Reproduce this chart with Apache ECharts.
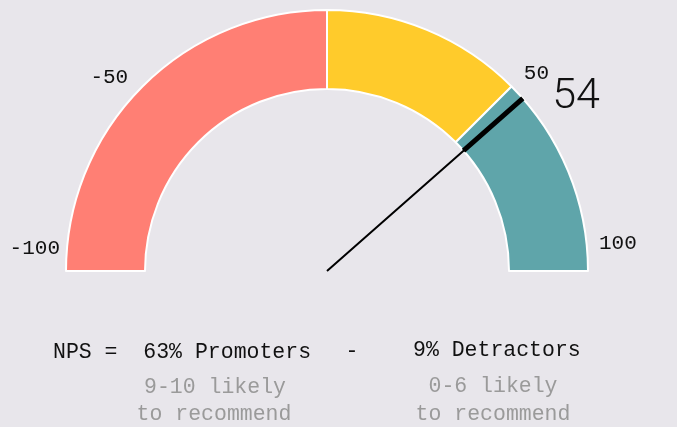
<!DOCTYPE html>
<html>
<head>
<meta charset="utf-8">
<script src="https://cdn.jsdelivr.net/npm/echarts@6/dist/echarts.min.js"></script>
<style>
html,body{margin:0;padding:0;background:#e8e6eb;}
#chart{width:677px;height:427px;}
</style>
</head>
<body>
<div id="chart"></div>
<script>
// ---- data ----
var segmentBounds = [-100, 0, 50, 100];          // red, yellow, teal ranges
var segmentColors = ['#ff7f74', '#ffcb2b', '#5fa5aa'];
var tickValues = [-100, -50, 50, 100];
var npsValue = 54;
var promoterPct = 63;
var detractorPct = 9;
var promoterNote = ['9-10 likely', 'to recommend'];
var detractorNote = ['0-6 likely', 'to recommend'];

var gMin = segmentBounds[0], gMax = segmentBounds[segmentBounds.length - 1];
var span = gMax - gMin;

var pieData = [];
for (var i = 0; i < segmentBounds.length - 1; i++) {
  pieData.push({ value: segmentBounds[i + 1] - segmentBounds[i], itemStyle: { color: segmentColors[i] } });
}
pieData.push({ value: span, itemStyle: { color: 'transparent', borderWidth: 0 } });

var CX = 327, CY = 271, R_OUT = 261, R_IN = 182;
var FONT = 'Liberation Mono';

var labelRich = {
  l1: { fontSize: 21, fontFamily: FONT, color: '#111', padding: [0, 0, 46, 0] },
  l2: { fontSize: 21, fontFamily: FONT, color: '#111', lineHeight: 10, padding: [0, 10, 0, 0] },
  r1: { fontSize: 21, fontFamily: FONT, color: '#111', lineHeight: 18, padding: [0, 0, 0, 8] },
  r2: { fontSize: 21, fontFamily: FONT, color: '#111', padding: [0, 0, 56, 5] }
};
var labelStyleName = { '-100': 'l1', '-50': 'l2', '50': 'r1', '100': 'r2' };

var chart = echarts.init(document.getElementById('chart'));
chart.setOption({
  backgroundColor: '#e8e6eb',
  animation: false,
  polar: { center: [CX, CY], radius: R_OUT },
  angleAxis: {
    type: 'value', min: gMin, max: gMin + 2 * span, interval: 50,
    startAngle: 180, clockwise: true,
    axisLine: { show: false }, axisTick: { show: false }, splitLine: { show: false },
    axisLabel: {
      margin: 6,
      formatter: function (v) {
        if (tickValues.indexOf(v) < 0) return '';
        return '{' + labelStyleName[String(v)] + '|' + v + '}';
      },
      rich: labelRich
    }
  },
  radiusAxis: { show: false, min: 0, max: 1 },
  graphic: [
    { type: 'text', x: 53, y: 352, style: { text: 'NPS =  ' + promoterPct + '% Promoters', font: '21.5px "' + FONT + '"', fill: '#111', align: 'left', verticalAlign: 'middle' } },
    { type: 'text', x: 352, y: 351, style: { text: '-', font: '21.5px "' + FONT + '"', fill: '#111', align: 'center', verticalAlign: 'middle' } },
    { type: 'text', x: 413, y: 350, style: { text: detractorPct + '% Detractors', font: '21.5px "' + FONT + '"', fill: '#111', align: 'left', verticalAlign: 'middle' } },
    { type: 'text', x: 215, y: 387, style: { text: promoterNote[0], font: '21.5px "' + FONT + '"', fill: '#9a9a9a', align: 'center', verticalAlign: 'middle' } },
    { type: 'text', x: 214, y: 414, style: { text: promoterNote[1], font: '21.5px "' + FONT + '"', fill: '#9a9a9a', align: 'center', verticalAlign: 'middle' } },
    { type: 'text', x: 493, y: 386, style: { text: detractorNote[0], font: '21.5px "' + FONT + '"', fill: '#9a9a9a', align: 'center', verticalAlign: 'middle' } },
    { type: 'text', x: 493, y: 414, style: { text: detractorNote[1], font: '21.5px "' + FONT + '"', fill: '#9a9a9a', align: 'center', verticalAlign: 'middle' } }
  ],
  series: [
    {
      type: 'pie',
      z: 1,
      center: [CX, CY],
      radius: [R_IN, R_OUT],
      startAngle: 180,
      clockwise: true,
      silent: true,
      label: { show: false },
      labelLine: { show: false },
      emphasis: { disabled: true },
      itemStyle: { borderColor: '#ffffff', borderWidth: 2 },
      data: pieData
    },
    {
      type: 'gauge',
      z: 5,
      center: [CX, CY],
      radius: R_OUT,
      startAngle: 180,
      endAngle: 0,
      min: gMin,
      max: gMax,
      axisLine: { show: false },
      axisTick: { show: false },
      splitLine: { show: false },
      axisLabel: { show: false },
      anchor: { show: false },
      title: { show: false },
      pointer: {
        icon: 'path://M0,0 L10,0 L10,79 L7,79 L7,261 L3,261 L3,79 L0,79 Z',
        length: '100%',
        width: 5,
        offsetCenter: [0, 0],
        itemStyle: { color: '#000' }
      },
      detail: {
        formatter: '{value}',
        offsetCenter: [249, -174],
        fontSize: 43,
        fontFamily: 'Roboto',
        fontWeight: 300,
        color: '#111'
      },
      data: [{ value: npsValue }]
    }
  ]
});
</script>
</body>
</html>
